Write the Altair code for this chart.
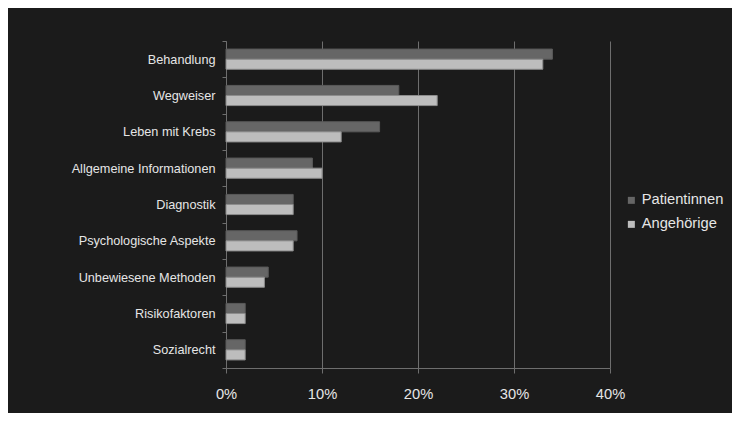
import altair as alt
import pandas as pd

categories = [
    "Behandlung",
    "Wegweiser",
    "Leben mit Krebs",
    "Allgemeine Informationen",
    "Diagnostik",
    "Psychologische Aspekte",
    "Unbewiesene Methoden",
    "Risikofaktoren",
    "Sozialrecht",
]
series = ["Patientinnen", "Angehörige"]
patientinnen = [34, 18, 16, 9, 7, 7.4, 4.4, 2, 2]
angehoerige = [33, 22, 12, 10, 7, 7, 4, 2, 2]
x_ticks = [0, 0.1, 0.2, 0.3, 0.4]

rows = []
for c, p, a in zip(categories, patientinnen, angehoerige):
    rows.append({"Kategorie": c, "Gruppe": series[0], "Anteil": p / 100})
    rows.append({"Kategorie": c, "Gruppe": series[1], "Anteil": a / 100})
df = pd.DataFrame(rows)

BG = "#1b1b1b"
GRID = "#6e6e6e"
TXT = "#e6e6e6"
FONT = "Liberation Sans"

chart = (
    alt.Chart(df)
    .mark_bar(strokeWidth=1)
    .encode(
        x=alt.X(
            "Anteil:Q",
            scale=alt.Scale(domain=[0, 0.4], nice=False, zero=True),
            axis=alt.Axis(
                format=".0%",
                values=x_ticks,
                title=None,
                grid=True,
                gridColor=GRID,
                gridWidth=1,
                domain=True,
                domainColor=GRID,
                ticks=True,
                tickColor=GRID,
                tickSize=5,
                labelFontSize=14.7,
                labelColor=TXT,
                labelFont=FONT,
                labelPadding=13,
                labelFlush=False,
            ),
        ),
        y=alt.Y(
            "Kategorie:N",
            sort=categories,
            scale=alt.Scale(paddingInner=0, paddingOuter=0),
            axis=alt.Axis(
                title=None,
                grid=False,
                domain=True,
                domainColor=GRID,
                ticks=True,
                tickBand="extent",
                tickColor=GRID,
                tickSize=4,
                labelFontSize=12.7,
                labelColor=TXT,
                labelFont=FONT,
                labelPadding=7,
            ),
        ),
        yOffset=alt.YOffset(
            "Gruppe:N",
            sort=series,
            scale=alt.Scale(paddingInner=0, paddingOuter=0.8),
        ),
        color=alt.Color(
            "Gruppe:N",
            sort=series,
            scale=alt.Scale(domain=series, range=["#666666", "#bdbdbd"]),
            legend=alt.Legend(
                title=None,
                orient="none",
                legendX=398,
                legendY=152,
                symbolType="square",
                symbolSize=49,
                symbolStrokeWidth=0,
                labelFontSize=14.7,
                labelColor=TXT,
                labelFont=FONT,
                labelOffset=3,
                rowPadding=8,
                padding=0,
            ),
        ),
        stroke=alt.Stroke(
            "Gruppe:N",
            sort=series,
            scale=alt.Scale(domain=series, range=["#5a5a5a", "#8c8c8c"]),
            legend=None,
        ),
    )
    .properties(
        width=384,
        height=327,
        autosize=alt.AutoSizeParams(type="none"),
        padding={"left": 218, "top": 33, "right": 122, "bottom": 45},
        background=BG,
    )
    .configure_view(stroke=None)
)

chart.save("out.html", embed_options={"renderer": "svg", "actions": False})
